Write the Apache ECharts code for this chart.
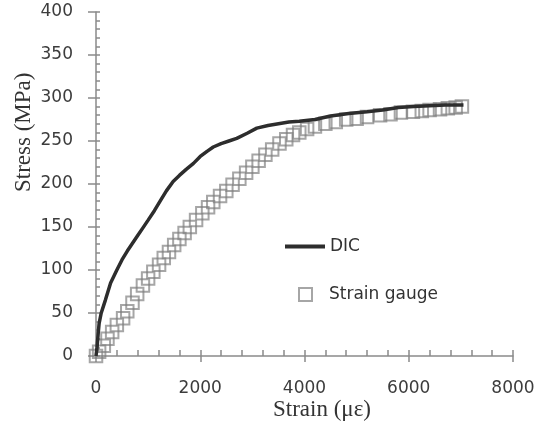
<!DOCTYPE html>
<html>
<head>
<meta charset="utf-8">
<script src="https://cdn.jsdelivr.net/npm/echarts@6/dist/echarts.min.js"></script>
<style>
html,body{margin:0;padding:0;background:#fff;}
#chart{width:547px;height:431px;}
</style>
</head>
<body>
<div id="chart"></div>
<script>
// DIC curve: strain (με), stress (MPa)
var dicStrain = [0, 20, 40, 60, 100, 180, 280, 400, 500, 600, 700, 800, 900, 1000, 1120, 1230, 1350, 1480, 1600, 1730, 1870, 2000, 2130, 2250, 2400, 2550, 2700, 2900, 3085, 3300, 3500, 3700, 3900, 4200, 4500, 4850, 5200, 5500, 5800, 6100, 6400, 6700, 7050];
var dicStress = [0, 10, 25, 38, 50, 65, 85, 100, 112, 122, 131, 140, 149, 158, 169, 180, 192, 203, 210, 217, 224, 232, 238, 243, 247, 250, 253, 259, 265, 268, 270, 272, 273, 275, 279, 282, 284, 286, 289, 290, 291, 292, 292];
// Strain gauge points
var sgStrain = [0, 60, 150, 220, 310, 400, 520, 600, 700, 790, 900, 1000, 1100, 1210, 1300, 1400, 1500, 1600, 1700, 1800, 1920, 2040, 2150, 2250, 2380, 2500, 2620, 2750, 2880, 3000, 3120, 3250, 3380, 3520, 3650, 3780, 3900, 4050, 4200, 4400, 4600, 4800, 5000, 5200, 5450, 5650, 5850, 6080, 6250, 6400, 6600, 6750, 6900, 7020];
var sgStress = [0, 5, 12, 20, 28, 36, 44, 52, 62, 72, 82, 90, 98, 106, 114, 121, 129, 136, 143, 150, 158, 166, 173, 179, 186, 192, 199, 206, 213, 220, 227, 234, 240, 247, 252, 257, 260, 264, 267, 270, 272, 275, 276, 278, 280, 281, 283, 284, 285, 286, 287, 288, 289, 290];
// Axes
var xMin = 0, xMax = 8000, xStep = 2000;
var yMin = 0, yMax = 400, yStep = 50;
var xTitle = 'Strain (με)';
var yTitle = 'Stress (MPa)';
var seriesNames = ['DIC', 'Strain gauge'];

function zip(a, b) { return a.map(function (v, i) { return [v, b[i]]; }); }

var chart = echarts.init(document.getElementById('chart'), null, {renderer: 'canvas'});
var axisGray = '#8a8a8a';
var labelColor = '#3c3c3c';
var gridBox = {left: 96, right: 34, top: 12, bottom: 75, containLabel: false};

chart.setOption({
  animation: false,
  backgroundColor: '#ffffff',
  grid: [Object.assign({}, gridBox), Object.assign({}, gridBox)],
  xAxis: [{
    type: 'value', gridIndex: 0, min: xMin, max: xMax, interval: xStep,
    axisLine: {show: true, lineStyle: {color: axisGray, width: 1.5}},
    axisTick: {show: true, inside: true, length: 6, lineStyle: {color: axisGray, width: 1.5}},
    minorTick: {show: true, splitNumber: 5, length: 6, lineStyle: {color: axisGray, width: 1.5}},
    splitLine: {show: false},
    axisLabel: {color: labelColor, fontFamily: 'DejaVu Sans', fontSize: 17, margin: 24,
      formatter: function (v) { return String(v); }}
  }, {
    type: 'value', gridIndex: 1, min: xMin, max: xMax, interval: xStep,
    axisLine: {show: false},
    axisTick: {show: true, inside: false, length: 6, lineStyle: {color: axisGray, width: 1.5}},
    splitLine: {show: false}, axisLabel: {show: false}
  }],
  yAxis: [{
    type: 'value', gridIndex: 0, min: yMin, max: yMax, interval: yStep,
    axisLine: {show: true, lineStyle: {color: axisGray, width: 1.5}},
    axisTick: {show: true, inside: true, length: 4, lineStyle: {color: axisGray, width: 1.5}},
    minorTick: {show: true, splitNumber: 5, length: 4, lineStyle: {color: axisGray, width: 1.5}},
    splitLine: {show: false},
    axisLabel: {color: labelColor, fontFamily: 'DejaVu Sans', fontSize: 17, margin: 23,
      formatter: function (v) { return String(v); }}
  }, {
    type: 'value', gridIndex: 1, min: yMin, max: yMax, interval: yStep,
    axisLine: {show: false},
    axisTick: {show: true, inside: false, length: 8, lineStyle: {color: axisGray, width: 1.5}},
    splitLine: {show: false}, axisLabel: {show: false}
  }],
  legend: [{
    data: [{name: seriesNames[0], icon: 'rect'}], left: 285, top: 238, orient: 'vertical',
    itemWidth: 40, itemHeight: 4, padding: 0,
    itemStyle: {color: '#2d2d2d', borderWidth: 0},
    textStyle: {color: '#333', fontFamily: 'DejaVu Sans', fontSize: 17}
  }, {
    data: [seriesNames[1]], left: 298, top: 286, orient: 'vertical',
    itemWidth: 13, itemHeight: 13, padding: 0,
    textStyle: {color: '#333', fontFamily: 'DejaVu Sans', fontSize: 17, padding: [0, 0, 0, 12]}
  }],
  graphic: [{
    type: 'text', left: 273, top: 398,
    style: {text: xTitle, font: '23px "Liberation Serif"', fill: '#333333'}
  }, {
    type: 'text', x: 12, y: 192, rotation: Math.PI / 2,
    style: {text: yTitle, font: '23px "Liberation Serif"', fill: '#333333'}
  }],
  series: [{
    name: seriesNames[1], type: 'scatter', xAxisIndex: 0, yAxisIndex: 0,
    data: zip(sgStrain, sgStress), symbol: 'rect', symbolSize: 12.5, z: 2,
    itemStyle: {color: 'rgba(255,255,255,0)', borderColor: 'rgba(125,125,125,0.85)', borderWidth: 2}
  }, {
    name: seriesNames[0], type: 'line', xAxisIndex: 0, yAxisIndex: 0,
    data: zip(dicStrain, dicStress), showSymbol: false, symbol: 'none', z: 3,
    lineStyle: {color: '#2d2d2d', width: 3.5}, itemStyle: {color: '#2d2d2d'}
  }]
});
</script>
</body>
</html>
